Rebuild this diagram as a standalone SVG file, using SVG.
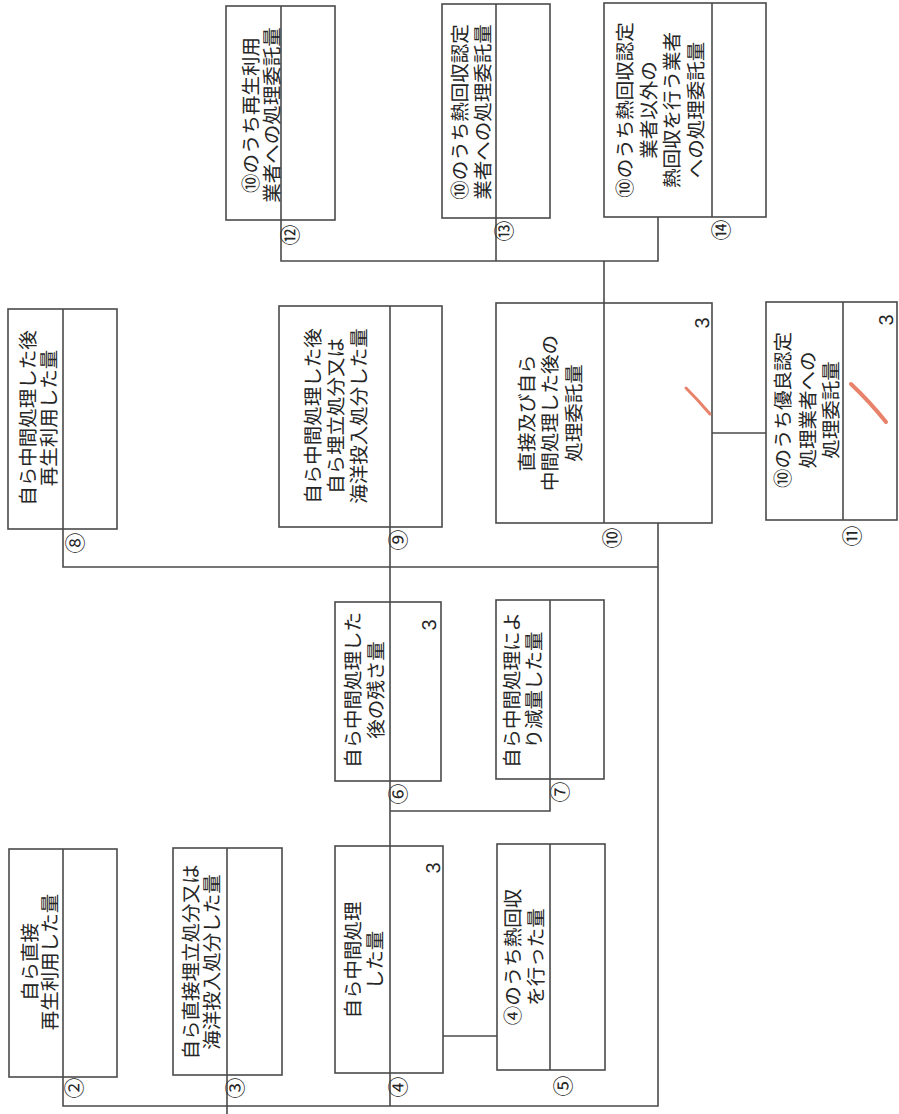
<svg xmlns="http://www.w3.org/2000/svg" width="899" height="1114" viewBox="0 0 899 1114">
<style>
.box{fill:#fff;stroke:#4a4a4a;stroke-width:1.6}
.div{stroke:#4a4a4a;stroke-width:1.6;fill:none}
.ln{stroke:#4a4a4a;stroke-width:1.6;fill:none}
text{text-rendering:geometricPrecision}
.t{font-family:"Noto Sans CJK JP","Noto Sans CJK SC",sans-serif;font-size:19.5px;fill:#262626;text-anchor:middle;dominant-baseline:central}
.lb{font-family:"Noto Sans CJK JP","Noto Sans CJK SC",sans-serif;font-size:21px;fill:#262626;text-anchor:middle;dominant-baseline:central}
.n{font-family:"Liberation Sans",Arial,sans-serif;font-size:20px;fill:#262626;text-anchor:middle;dominant-baseline:central}
.red{stroke:#e8826a;stroke-width:3;stroke-linecap:round;fill:none}
</style>
<rect width="899" height="1114" fill="#fff"/>
<g id="connectors">
<path class="ln" d="M63,1077 V1106 H658 V523"/>
<path class="ln" d="M227,1075 V1114"/>
<path class="ln" d="M390,306 V1106"/>
<path class="ln" d="M443,1036 H497"/>
<path class="ln" d="M550,779 V811 H390"/>
<path class="ln" d="M63,529 V567 H658"/>
<path class="ln" d="M712,433 H766"/>
<path class="ln" d="M281,220 V261 H658 V217"/>
<path class="ln" d="M496,218 V261"/>
<path class="ln" d="M604,261 V303"/>
</g>
<g id="n2">
<rect class="box" x="9" y="849" width="108" height="228"/>
<line class="div" x1="63" y1="849" x2="63" y2="1077"/>
<text class="t" transform="translate(28,962) rotate(-90)">自ら直接</text>
<text class="t" transform="translate(48,962) rotate(-90)">再生利用した量</text>
<text class="lb" transform="translate(74,1088) rotate(-90)">②</text>
</g>
<g id="n3">
<rect class="box" x="173" y="848" width="109" height="227"/>
<line class="div" x1="227" y1="848" x2="227" y2="1075"/>
<text class="t" transform="translate(189,962) rotate(-90)">自ら直接埋立処分又は</text>
<text class="t" transform="translate(210,962) rotate(-90)">海洋投入処分した量</text>
<text class="lb" transform="translate(235,1088) rotate(-90)">③</text>
</g>
<g id="n4">
<rect class="box" x="335" y="846" width="108" height="227"/>
<line class="div" x1="390" y1="846" x2="390" y2="1073"/>
<text class="t" transform="translate(351,960) rotate(-90)">自ら中間処理</text>
<text class="t" transform="translate(373,960) rotate(-90)">した量</text>
<text class="n" transform="translate(434,868) rotate(-90)">3</text>
<text class="lb" transform="translate(398,1087) rotate(-90)">④</text>
</g>
<g id="n5">
<rect class="box" x="497" y="844" width="108" height="226"/>
<line class="div" x1="550" y1="844" x2="550" y2="1070"/>
<text class="t" transform="translate(511,957) rotate(-90)">④のうち熱回収</text>
<text class="t" transform="translate(534,957) rotate(-90)">を行った量</text>
<text class="lb" transform="translate(563,1086) rotate(-90)">⑤</text>
</g>
<g id="n6">
<rect class="box" x="335" y="602" width="106" height="179"/>
<line class="div" x1="390" y1="602" x2="390" y2="781"/>
<text class="t" transform="translate(351,690) rotate(-90)">自ら中間処理した</text>
<text class="t" transform="translate(374,690) rotate(-90)">後の残さ量</text>
<text class="n" transform="translate(430,625) rotate(-90)">3</text>
<text class="lb" transform="translate(398,794) rotate(-90)">⑥</text>
</g>
<g id="n7">
<rect class="box" x="496" y="600" width="108" height="179"/>
<line class="div" x1="550" y1="600" x2="550" y2="779"/>
<text class="t" transform="translate(510,690) rotate(-90)">自ら中間処理によ</text>
<text class="t" transform="translate(532,690) rotate(-90)">り減量した量</text>
<text class="lb" transform="translate(560,792) rotate(-90)">⑦</text>
</g>
<g id="n8">
<rect class="box" x="8" y="309" width="109" height="220"/>
<line class="div" x1="63" y1="309" x2="63" y2="529"/>
<text class="t" transform="translate(26,418) rotate(-90)">自ら中間処理した後</text>
<text class="t" transform="translate(47,418) rotate(-90)">再生利用した量</text>
<text class="lb" transform="translate(75,543) rotate(-90)">⑧</text>
</g>
<g id="n9">
<rect class="box" x="279" y="306" width="163" height="221"/>
<line class="div" x1="390" y1="306" x2="390" y2="527"/>
<text class="t" transform="translate(311,416) rotate(-90)">自ら中間処理した後</text>
<text class="t" transform="translate(334,416) rotate(-90)">自ら埋立処分又は</text>
<text class="t" transform="translate(357,416) rotate(-90)">海洋投入処分した量</text>
<text class="lb" transform="translate(398,540) rotate(-90)">⑨</text>
</g>
<g id="n10">
<rect class="box" x="496" y="303" width="216" height="220"/>
<line class="div" x1="604" y1="303" x2="604" y2="523"/>
<text class="t" transform="translate(525,413) rotate(-90)">直接及び自ら</text>
<text class="t" transform="translate(548,413) rotate(-90)">中間処理した後の</text>
<text class="t" transform="translate(572,413) rotate(-90)">処理委託量</text>
<text class="n" transform="translate(703,323) rotate(-90)">3</text>
<path class="red" d="M686,388 Q698,400 710,414"/>
<text class="lb" transform="translate(612,538) rotate(-90)">⑩</text>
</g>
<g id="n11">
<rect class="box" x="766" y="302" width="131" height="218"/>
<line class="div" x1="843" y1="302" x2="843" y2="520"/>
<text class="t" transform="translate(781,410) rotate(-90)">⑩のうち優良認定</text>
<text class="t" transform="translate(806,410) rotate(-90)">処理業者への</text>
<text class="t" transform="translate(829,410) rotate(-90)">処理委託量</text>
<text class="n" transform="translate(887,320) rotate(-90)">3</text>
<path class="red" d="M851,384 Q870,402 886,422" style="stroke-width:4"/>
<text class="lb" transform="translate(852,536) rotate(-90)">⑪</text>
</g>
<g id="n12">
<rect class="box" x="226" y="6" width="109" height="214"/>
<line class="div" x1="281" y1="6" x2="281" y2="220"/>
<text class="t" transform="translate(249,115) rotate(-90)">⑩のうち再生利用</text>
<text class="t" transform="translate(270,115) rotate(-90)">業者への処理委託量</text>
<text class="lb" transform="translate(290,235) rotate(-90)">⑫</text>
</g>
<g id="n13">
<rect class="box" x="442" y="4" width="108" height="214"/>
<line class="div" x1="496" y1="4" x2="496" y2="218"/>
<text class="t" transform="translate(458,112) rotate(-90)">⑩のうち熱回収認定</text>
<text class="t" transform="translate(481,112) rotate(-90)">業者への処理委託量</text>
<text class="lb" transform="translate(504,231) rotate(-90)">⑬</text>
</g>
<g id="n14">
<rect class="box" x="604" y="3" width="162" height="214"/>
<line class="div" x1="712" y1="3" x2="712" y2="217"/>
<text class="t" transform="translate(623,110) rotate(-90)">⑩のうち熱回収認定</text>
<text class="t" transform="translate(647,110) rotate(-90)">業者以外の</text>
<text class="t" transform="translate(670,110) rotate(-90)">熱回収を行う業者</text>
<text class="t" transform="translate(694,110) rotate(-90)">への処理委託量</text>
<text class="lb" transform="translate(721,230) rotate(-90)">⑭</text>
</g>
</svg>
